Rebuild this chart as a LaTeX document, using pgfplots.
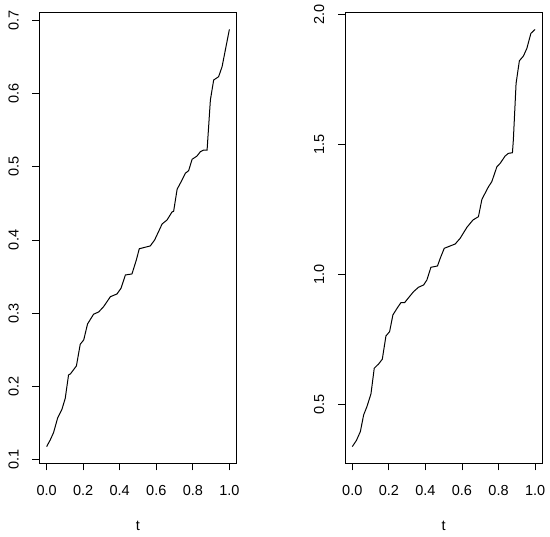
\documentclass[border=0pt]{standalone}
\usepackage{fontspec}
\setmainfont{Liberation Sans}
\usepackage{pgfplots}
\pgfplotsset{compat=1.18}
\newcommand\fs{\fontsize{14.5bp}{17bp}\selectfont}

\pgfplotsset{
  rpanel/.style={
    scale only axis, width=197.4bp, height=450.6bp, anchor=south west,
    xmin=-0.04, xmax=1.04,
    xtick={0,0.2,0.4,0.6,0.8,1},
    tick pos=left, tick align=outside, major tick length=7bp,
    axis line style={line width=0.9bp},
    every tick/.style={black, line width=0.9bp},
    tick label style={font=\fs},
    label style={font=\fs},
    xticklabel style={inner sep=0pt, anchor=base, yshift=-25bp},
    yticklabel style={inner sep=0pt, xshift=-13.8bp, rotate=90, anchor=base},
    xlabel={t},
    xlabel style={at={(axis description cs:0.5,0)}, anchor=base, inner sep=0pt, yshift=-67bp},
    /pgf/number format/fixed,
    /pgf/number format/fixed zerofill,
    /pgf/number format/precision=1,
    /pgf/number format/assume math mode=true,
  },
}

\begin{document}
\begin{tikzpicture}
\useasboundingbox (0,0) rectangle (550bp,537bp);

% left panel
\begin{axis}[rpanel, at={(39.3bp,73.7bp)},
    ymin=0.0944, ymax=0.7110, ytick={0.1,0.2,0.3,0.4,0.5,0.6,0.7}]
\addplot[black, line width=1bp] coordinates {
(0.000,0.1172) (0.020,0.1264) (0.038,0.1364) (0.060,0.1561) (0.084,0.1684)
(0.102,0.1834) (0.120,0.2153) (0.130,0.2167) (0.163,0.2276) (0.184,0.2573)
(0.203,0.2632) (0.224,0.2851) (0.257,0.2984) (0.285,0.3015) (0.312,0.3088)
(0.349,0.3224) (0.385,0.3261) (0.407,0.3339) (0.431,0.3521) (0.467,0.3535)
(0.491,0.3727) (0.507,0.3880) (0.567,0.3918) (0.591,0.4000) (0.632,0.4219)
(0.659,0.4274) (0.686,0.4383) (0.695,0.4393) (0.714,0.4694) (0.741,0.4821)
(0.759,0.4913) (0.777,0.4948) (0.796,0.5104) (0.823,0.5149) (0.841,0.5208)
(0.859,0.5231) (0.878,0.5231) (0.896,0.5915) (0.914,0.6189) (0.941,0.6234)
(0.960,0.6371) (1.000,0.6882)
};
\end{axis}

% right panel
\begin{axis}[rpanel, at={(345bp,73.7bp)},
    ymin=0.2755, ymax=2.0081, ytick={0.5,1,1.5,2}]
\addplot[black, line width=1bp] coordinates {
(0.000,0.3397) (0.022,0.3628) (0.044,0.3974) (0.062,0.4616) (0.080,0.4935)
(0.102,0.5423) (0.120,0.6410) (0.144,0.6576) (0.164,0.6756) (0.184,0.7652)
(0.204,0.7817) (0.222,0.8459) (0.247,0.8739) (0.266,0.8932) (0.286,0.8932)
(0.308,0.9124) (0.335,0.9354) (0.362,0.9523) (0.390,0.9612) (0.408,0.9804)
(0.430,1.0292) (0.466,1.0342) (0.481,1.0638) (0.503,1.1022) (0.563,1.1188)
(0.590,1.1407) (0.627,1.1829) (0.660,1.2110) (0.690,1.2237) (0.709,1.2905)
(0.745,1.3390) (0.763,1.3582) (0.791,1.4158) (0.809,1.4289) (0.836,1.4570)
(0.854,1.4673) (0.876,1.4696) (0.881,1.5185) (0.896,1.7364) (0.914,1.8233)
(0.936,1.8413) (0.955,1.8709) (0.977,1.9286) (1.000,1.9439)
};
\end{axis}
\end{tikzpicture}
\end{document}
